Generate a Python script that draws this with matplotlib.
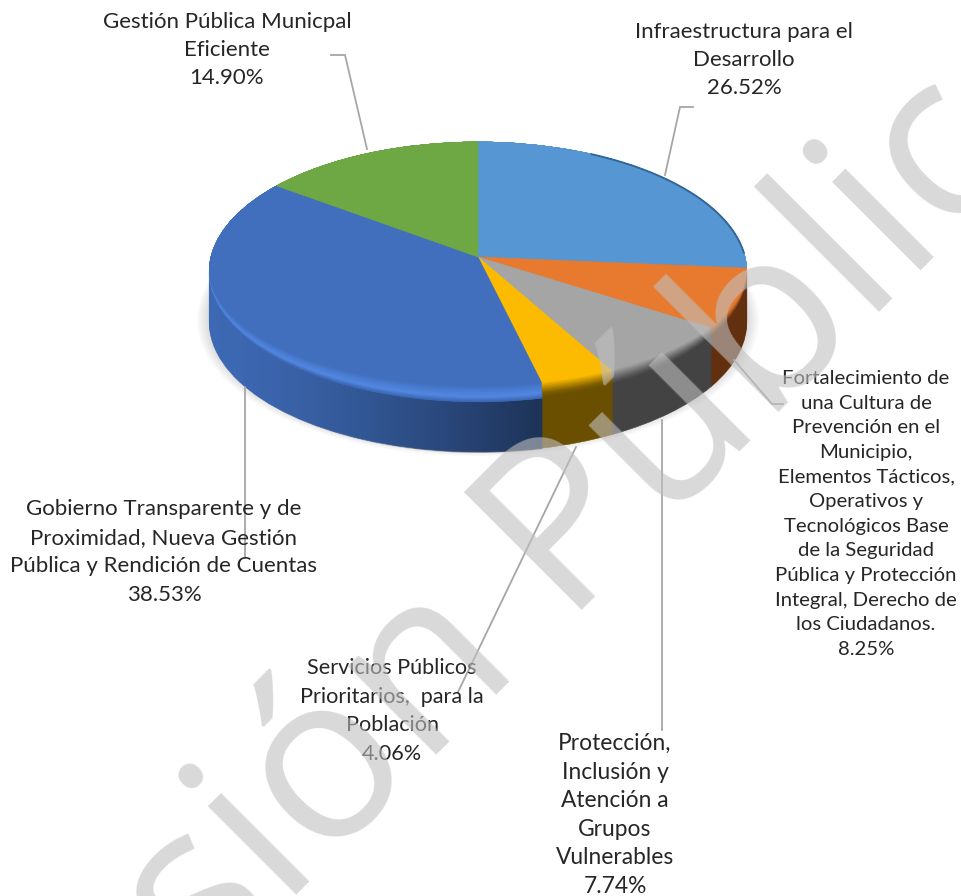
import numpy as np
import matplotlib
matplotlib.use("Agg")
import matplotlib.pyplot as plt
from matplotlib.path import Path
from matplotlib.patches import PathPatch, Circle
from matplotlib.transforms import Transform

# values, clockwise from 12 o'clock
categories = [
    "Infraestructura para el\nDesarrollo",
    "Fortalecimiento de\nuna Cultura de\nPrevención en el\nMunicipio,\nElementos Tácticos,\nOperativos y\nTecnológicos Base\nde la Seguridad\nPública y Protección\nIntegral, Derecho de\nlos Ciudadanos.",
    "Protección,\nInclusión y\nAtención a\nGrupos\nVulnerables",
    "Servicios Públicos\nPrioritarios,  para la\nPoblación",
    "Gobierno Transparente y de\nProximidad, Nueva Gestión\nPública y Rendición de Cuentas",
    "Gestión Pública Municpal\nEficiente",
]
values = [26.52, 8.25, 7.74, 4.06, 38.53, 14.90]
face_colors = ["#5596d3", "#e87a2f", "#a5a5a5", "#fcbb00", "#416fbd", "#6da845"]
rim_colors = ["#2a5a8c", "#63300f", "#434343", "#6b4f00", "#3d69b4", "#3e6b25"]
bevel_colors = ["#5596d3", "#8a4a1c", "#5a5a5a", "#7d5d00", "#5288e4", "#6da845"]

# label centre (x, y) in image pixels, same order as the values
label_pos = [(744, 60), (866, 514), (615, 815), (392, 711), (164, 552), (227, 50)]
label_size = [16.0, 14.6, 16.4, 15.6, 16.0, 16.0]
label_line_px = [27.3, 25.3, 26.6, 26.8, 27.3, 27.3]
leaders = [
    [(665, 175), (680, 107), (693, 107)],
    [(734, 360), (772, 404), (783, 404)],
    [(662, 420), (662, 730)],
    [(576, 447), (458, 692)],
    [(245, 387), (245, 558)],
    [(367, 149), (345, 55), (331, 55)],
]

APEX = (478.0, 257.0)
DEPTH = 50
PERSP = 0.115


class TiltedDisc(Transform):
    """Unit pie -> image pixels, a tilted disc seen in perspective."""
    input_dims = 2
    output_dims = 2
    is_separable = False
    has_inverse = False

    def __init__(self, front=1.0, drop=0.0):
        super().__init__()
        self.front = front
        self.drop = drop

    def transform_non_affine(self, values):
        xy = np.asarray(values, dtype=float)
        x, y = xy[:, 0], xy[:, 1].copy()
        y = np.where(y < 0, y * self.front, y)
        den = 1 + PERSP * y
        return np.column_stack([APEX[0] + 267.0 * x / den,
                                APEX[1] - 128.2 * y / den + self.drop])


plt.rcParams["font.family"] = ["Lato", "DejaVu Sans"]
fig = plt.figure(figsize=(9.61, 8.96), dpi=100)
ax = fig.add_axes([0, 0, 1, 1])


def pie_layer(transform, colors, z):
    wedges, _ = ax.pie(values, colors=colors, startangle=90, counterclock=False,
                       radius=1.0, wedgeprops={"linewidth": 0.4})
    for w in wedges:
        w.set_edgecolor(w.get_facecolor())
        w.set_transform(transform + ax.transData)
        w.set_zorder(z)


def mix(c1, c2, t):
    a, b = np.array(matplotlib.colors.to_rgb(c1)), np.array(matplotlib.colors.to_rgb(c2))
    return tuple(a + (b - a) * t)


def rim_arc(deg_from, deg_to, n=80):
    ang = np.radians(np.linspace(deg_from, deg_to, n))
    return TiltedDisc().transform_non_affine(np.column_stack([np.cos(ang), np.sin(ang)]))


# soft shadow under the disc
for grow, alpha in zip(np.linspace(1.045, 1.0, 10), [0.025] * 10):
    ax.add_patch(Circle((0, 0), grow, fc="#555555", ec="none", alpha=alpha, zorder=1,
                        transform=TiltedDisc(drop=DEPTH - 3) + ax.transData))

# side wall, stacked from the bottom up
for d in range(DEPTH, 0, -2):
    pie_layer(TiltedDisc(drop=d), rim_colors, 2)

# darkening of the big slice's wall towards the front
cum = np.cumsum(values) / 100.0 * 360.0
arc = rim_arc(90 - cum[3], -186)
wall = np.vstack([arc, (arc + [0, DEPTH + 1])[::-1], arc[:1]])
shade = np.zeros((2, 256, 4))
shade[:, :, 3] = np.linspace(0, 1, 256) ** 1.4 * 0.52
im = ax.imshow(shade, extent=(arc[:, 0].min(), arc[:, 0].max(), 470, 250),
               aspect="auto", zorder=2.5, interpolation="bilinear")
im.set_clip_path(PathPatch(Path(wall), transform=ax.transData))

# rounded front edge: wall colour -> highlight -> flat face
steps = np.linspace(0, 1, 12)
for t in steps:
    fr = 1.0 - 0.10 * t
    if t < 0.3:
        cols = [mix(r, b, t / 0.3) for r, b in zip(rim_colors, bevel_colors)]
    else:
        cols = [mix(b, f, (t - 0.3) / 0.7) for b, f in zip(bevel_colors, face_colors)]
    pie_layer(TiltedDisc(front=fr), cols, 3 + t)

ax.set_aspect("auto")
ax.set_xlim(0, 961)
ax.set_ylim(896, 0)
ax.axis("off")

# thin dark edge on the back right
edge = rim_arc(62, 2)
ax.plot(edge[:, 0], edge[:, 1], color="#2a5a8c", lw=1.4, alpha=0.8, zorder=4.5)

for pts in leaders:
    xs, ys = zip(*pts)
    ax.plot(xs, ys, color="#a6a6a6", lw=1.3, zorder=5, solid_joinstyle="miter")

for cat, val, (lx, ly), fs, line_px in zip(categories, values, label_pos, label_size, label_line_px):
    # 19 px of line pitch at 14.6 pt with spacing 1.16 -> scale to the wanted pitch
    spacing = 1.16 * (line_px / 19.0) * (14.6 / fs)
    ax.text(lx, ly, f"{cat}\n{val:.2f}%", ha="center", va="center", fontsize=fs,
            color="#262626", linespacing=spacing, zorder=6)

# watermark over everything
ax.text(490, 615, "Versión Pública", fontsize=167, color="#c0c0c0", alpha=0.6,
        rotation=45, rotation_mode="anchor", ha="center", va="center",
        family=["Open Sans", "DejaVu Sans"], zorder=10, clip_on=True)

fig.savefig("out.png", dpi=100)
